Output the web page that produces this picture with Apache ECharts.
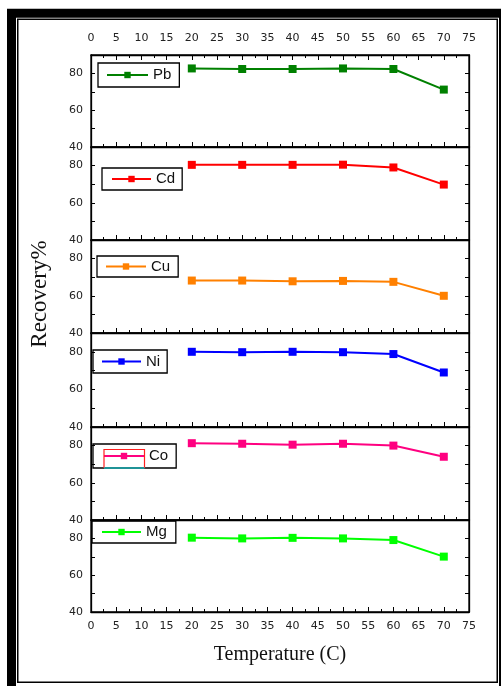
<!DOCTYPE html>
<html>
<head>
<meta charset="utf-8">
<script src="https://cdn.jsdelivr.net/npm/echarts@6/dist/echarts.min.js"></script>
<style>
  html, body { margin: 0; padding: 0; background: #fff; }
  #chart { width: 501px; height: 686px; }
</style>
</head>
<body>
<div id="chart"></div>
<script>
// Recovery (%) of each metal versus temperature (C)
const temperatures = [20, 30, 40, 50, 60, 70];
const metals = ['Pb', 'Cd', 'Cu', 'Ni', 'Co', 'Mg'];
const pbRecovery = [82.7, 82.4, 82.4, 82.7, 82.4, 71.2];
const cdRecovery = [80.4, 80.4, 80.4, 80.5, 79.0, 69.8];
const cuRecovery = [68.2, 68.2, 67.8, 68.0, 67.5, 60.0];
const niRecovery = [80.0, 79.8, 80.0, 79.8, 78.8, 69.0];
const coRecovery = [81.3, 81.0, 80.5, 81.0, 80.0, 74.0];
const mgRecovery = [80.4, 80.0, 80.3, 80.0, 79.1, 70.1];
const xTickLabels = [0, 5, 10, 15, 20, 25, 30, 35, 40, 45, 50, 55, 60, 65, 70, 75];
const yTickLabels = [40, 60, 80];

const recoveries = [pbRecovery, cdRecovery, cuRecovery, niRecovery, coRecovery, mgRecovery];
const colors = ['#008000', '#ff0000', '#ff8000', '#0000ff', '#ff0080', '#00ff00'];

// stacked panel layout
const panelTops = [55, 147, 240, 333, 427, 520];
const panelBottom = 612;
const plotLeft = 91, plotRight = 469;

// legend box per panel: [left, top, padding, sample width]
const legendBoxes = [
  [98, 63, [4.5, 8, 4.5, 8], 41],
  [102, 168, [3.5, 7, 3.5, 9], 39],
  [97, 256, [3, 8, 3, 8], 40],
  [93, 350, [4, 7, 4, 8], 39],
  [93, 444, [4.5, 8, 4.5, 10], 40],
  [92, 521, [3.5, 9, 3.5, 9], 39]
];

const sans = 'Liberation Sans, Arial, sans-serif';
const tickFont = 'DejaVu Sans, Verdana, sans-serif';
const serif = 'Liberation Serif, Times New Roman, serif';

const grids = [], xAxes = [], yAxes = [], series = [], legends = [];

metals.forEach((name, i) => {
  const top = panelTops[i];
  const bottom = i < 5 ? panelTops[i + 1] : panelBottom;
  grids.push({
    left: plotLeft, width: plotRight - plotLeft, top: top, height: bottom - top,
    show: true, borderColor: '#000', borderWidth: 1.3, backgroundColor: 'transparent'
  });

  const xBase = {
    gridIndex: i, type: 'value', min: 0, max: 75, interval: 5,
    axisLine: { show: true, onZero: false, lineStyle: { color: '#000', width: 1.3 } },
    axisTick: { show: true, inside: true, length: 5, lineStyle: { color: '#000', width: 1 } },
    minorTick: { show: true, splitNumber: 2, length: 3, lineStyle: { color: '#000', width: 1 } },
    splitLine: { show: false }, minorSplitLine: { show: false },
    axisLabel: {
      fontFamily: tickFont, fontSize: 11, color: '#222', margin: 9,
      formatter: v => (xTickLabels.includes(v) ? String(v) : '')
    }
  };
  xAxes.push(Object.assign({}, xBase, {
    position: 'bottom',
    axisLabel: Object.assign({}, xBase.axisLabel, { show: i === 5, margin: 9 })
  }));
  if (i === 0) {
    xAxes.push(Object.assign({}, xBase, {
      position: 'top',
      axisLabel: Object.assign({}, xBase.axisLabel, { show: true, margin: 11 })
    }));
  }

  const yBase = {
    gridIndex: i, type: 'value', min: 40, max: 90, interval: 10,
    axisLine: { show: true, onZero: false, lineStyle: { color: '#000', width: 1.3 } },
    axisTick: { show: true, inside: true, length: 4, lineStyle: { color: '#000', width: 1 } },
    splitLine: { show: false }
  };
  yAxes.push(Object.assign({}, yBase, {
    position: 'left',
    axisLabel: {
      fontFamily: tickFont, fontSize: 11, color: '#222', margin: 8,
      showMaxLabel: false,
      formatter: v => (yTickLabels.includes(v) ? String(v) : '')
    }
  }));
  yAxes.push(Object.assign({}, yBase, { position: 'right', axisLabel: { show: false } }));

  series.push({
    name: name, type: 'line',
    xAxisIndex: i === 0 ? 0 : i + 1,
    yAxisIndex: i * 2,
    data: temperatures.map((t, k) => [t, recoveries[i][k]]),
    symbol: 'rect', symbolSize: 8,
    color: colors[i],
    lineStyle: { color: colors[i], width: 2 },
    itemStyle: { color: colors[i] },
    emphasis: { disabled: true },
    animation: false
  });

  const lb = legendBoxes[i];
  legends.push({
    data: [name], left: lb[0], top: lb[1], padding: lb[2],
    borderColor: '#000', borderWidth: 1.3, borderRadius: 0,
    itemWidth: lb[3], itemHeight: 8, selectedMode: false,
    textStyle: { fontFamily: sans, fontSize: 15, color: '#111' }
  });
});

const chart = echarts.init(document.getElementById('chart'), null, { renderer: 'canvas' });
chart.setOption({
  animation: false,
  backgroundColor: '#fff',
  grid: grids,
  xAxis: xAxes,
  yAxis: yAxes,
  legend: legends,
  series: series,
  graphic: [
    // heavy outer frame and thin inner frame
    { type: 'rect', silent: true, shape: { x: 11.5, y: 13.25, width: 492, height: 680 },
      style: { fill: 'none', stroke: '#000', lineWidth: 9 } },
    { type: 'rect', silent: true, shape: { x: 17.75, y: 19.25, width: 479.5, height: 663 },
      style: { fill: 'none', stroke: '#000', lineWidth: 1.5 } },
    // outline around the Co legend sample
    { type: 'polyline', silent: true, z: 200,
      shape: { points: [[104, 468], [104, 449.5], [144.5, 449.5], [144.5, 468]] },
      style: { fill: 'none', stroke: '#ff2020', lineWidth: 1.2 } },
    { type: 'line', silent: true, z: 200,
      shape: { x1: 104, y1: 468, x2: 144.5, y2: 468 },
      style: { stroke: '#00e8f0', lineWidth: 1.2 } },
    // axis titles
    { type: 'text', silent: true, x: 40, y: 294, rotation: Math.PI / 2,
      style: { text: 'Recovery%', fontFamily: serif, fontSize: 23, fill: '#111',
               align: 'center', verticalAlign: 'middle' } },
    { type: 'text', silent: true, x: 280, y: 655,
      style: { text: 'Temperature (C)', fontFamily: serif, fontSize: 20, fill: '#111',
               align: 'center', verticalAlign: 'middle' } }
  ]
});
</script>
</body>
</html>
